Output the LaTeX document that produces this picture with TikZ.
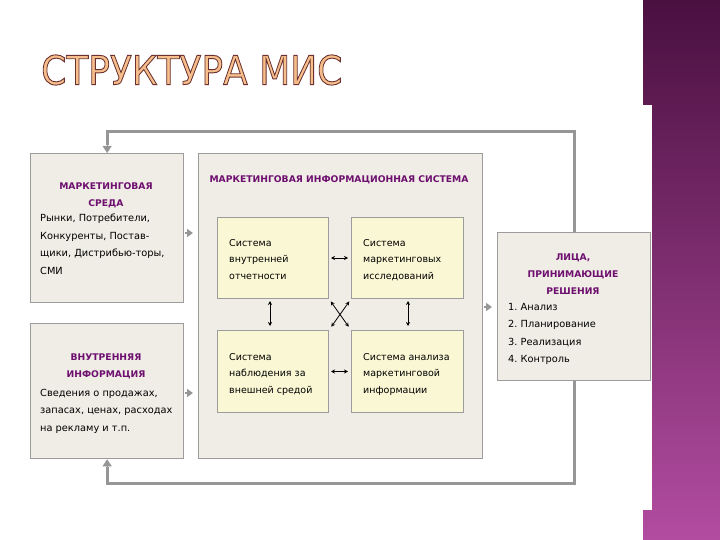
\documentclass[tikz,border=0pt]{standalone}
\usepackage{fontspec}
\setmainfont{DejaVu Sans}
\usetikzlibrary{arrows.meta,calc}
\definecolor{boxfill}{HTML}{EFEDE5}
\definecolor{boxline}{HTML}{9C9C9C}
\definecolor{innerfill}{HTML}{FAF8D4}
\definecolor{headpurple}{HTML}{6E0F70}
\definecolor{loopgray}{HTML}{969696}
\definecolor{stripdark}{HTML}{4A1040}
\definecolor{striplight}{HTML}{B24CA0}
\definecolor{titlefill}{HTML}{F6BE8A}
\newcommand{\hollowtext}[1]{\special{pdf:literal direct 0.42 0.19 0.19 RG 2 Tr 0.9 w}#1\special{pdf:literal direct 0 Tr}}
\tikzset{
  outerbox/.style={draw=boxline,fill=boxfill,line width=1.3pt,inner sep=0pt,anchor=north west},
  innerbox/.style={draw=boxline,fill=innerfill,line width=1pt,inner sep=0pt,anchor=north west},
  headtext/.style={text=headpurple,font=\fontsize{9.2}{17}\selectfont\bfseries,align=center,inner sep=0pt,anchor=north},
  bodytext/.style={font=\fontsize{9.8}{17.5}\selectfont,align=left,inner sep=0pt,anchor=north west},
  cellText/.style={font=\fontsize{9.5}{16.5}\selectfont,align=left,inner sep=0pt,anchor=north west},
  loopline/.style={draw=loopgray,line width=3pt},
  feed/.style={draw=loopgray,line width=2.5pt,-{Triangle[length=6pt,width=8pt]},shorten <=1pt,shorten >=5pt},
  link/.style={<->,line width=0.8pt}
}
\begin{document}
\begin{tikzpicture}[x=1pt,y=-1pt,>={Stealth[length=4pt,width=4pt]}]
		\useasboundingbox (0,0) rectangle (720,540);
		\shade[top color=stripdark,bottom color=striplight] (643,0) rectangle (720,540);
		\fill[white] (600,105) rectangle (652,510);
		\node[text=titlefill,font=\fontsize{40}{40}\selectfont,xscale=0.9,anchor=west] (title) at (38,70) {\hollowtext{СТРУКТУРА МИС}};

		\node[outerbox,minimum width=153pt,minimum height=149pt] (env) at (30,153) {};
		\node[outerbox,minimum width=153pt,minimum height=135pt] (intinfo) at (30,323) {};
		\node[outerbox,minimum width=284pt,minimum height=305pt] (mis) at (198,153) {};
		\node[outerbox,minimum width=153pt,minimum height=148pt] (dm) at (497,232) {};
		\node[innerbox,minimum width=111pt,minimum height=81pt] (rep) at (217,217) {};
		\node[innerbox,minimum width=112pt,minimum height=81pt] (res) at (351,217) {};
		\node[innerbox,minimum width=111pt,minimum height=82pt] (obs) at (217,330) {};
		\node[innerbox,minimum width=112pt,minimum height=82pt] (ana) at (351,330) {};

		\node[headtext] (envhead) at (106,182) {МАРКЕТИНГОВАЯ\\СРЕДА};
		\node[bodytext] (envbody) at (40,214) {Рынки, Потребители,\\Конкуренты, Постав-\\щики, Дистрибью-торы,\\СМИ};
		\node[headtext] (infohead) at (106,354) {ВНУТРЕННЯЯ\\ИНФОРМАЦИЯ};
		\node[bodytext] (infobody) at (40,389) {Сведения о продажах,\\запасах, ценах, расходах\\на рекламу и т.п.};
		\node[headtext] (mishead) at (339,175) {МАРКЕТИНГОВАЯ ИНФОРМАЦИОННАЯ СИСТЕМА};
		\node[cellText] (reptext) at (229,239) {Система\\внутренней\\отчетности};
		\node[cellText] (restext) at (363,239) {Система\\маркетинговых\\исследований};
		\node[cellText] (obstext) at (229,353) {Система\\наблюдения за\\внешней средой};
		\node[cellText] (anatext) at (363,353) {Система анализа\\маркетинговой\\информации};
		\node[headtext] (dmhead) at (573,254) {ЛИЦА,\\ПРИНИМАЮЩИЕ\\РЕШЕНИЯ};
		\node[bodytext] (dmlist) at (508,303) {1.\ Анализ\\2.\ Планирование\\3.\ Реализация\\4.\ Контроль};

		\draw[loopline] (dm.north) -- ++(0,-100) -| ([yshift=8pt]env.north);
		\draw[loopline] (dm.south) -- ++(0,102) -| ([yshift=-8pt]intinfo.south);
		\draw[draw=loopgray,-{Triangle[length=7pt,width=9pt]}] ([yshift=9pt]env.north) -- (env.north);
		\draw[draw=loopgray,-{Triangle[length=7pt,width=9pt]}] ([yshift=-9pt]intinfo.south) -- (intinfo.south);

		\draw[feed] (env.east |- 0,233) -- (mis.west |- 0,233);
		\draw[feed] (intinfo.east |- 0,393) -- (mis.west |- 0,393);
		\draw[feed] (mis.east |- 0,307) -- (dm.west |- 0,307);

		\draw[link,shorten <=2pt,shorten >=3pt] (rep) -- (res);
		\draw[link,shorten <=2pt,shorten >=3pt] (obs) -- (ana);
		\draw[link,shorten <=2pt,shorten >=4pt] (rep.south -| 270,0) -- (obs.north -| 270,0);
		\draw[link,shorten <=2pt,shorten >=4pt] (res.south -| 408,0) -- (ana.north -| 408,0);
		\draw[link,shorten <=3pt,shorten >=4pt] (rep.south east) -- (ana.north west);
		\draw[link,shorten <=3pt,shorten >=4pt] (res.south west) -- (obs.north east);
	\end{tikzpicture}
\end{document}
